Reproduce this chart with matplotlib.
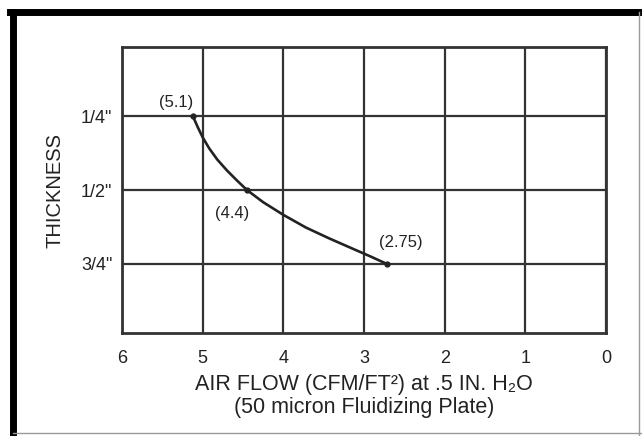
import matplotlib
matplotlib.use("Agg")
import matplotlib.pyplot as plt
from matplotlib.lines import Line2D

# data
flow_pts = [5.12, 4.45, 2.72]
thick_pts = [0.25, 0.5, 0.75]
point_labels = ['(5.1)', '(4.4)', '(2.75)']
label_x = [5.33, 4.64, 2.54]
label_y = [0.202, 0.578, 0.679]

# points along the drawn curve
flow_curve = [5.12, 5.06, 5.0, 4.92, 4.82, 4.70, 4.58, 4.45, 4.25, 4.0, 3.72, 3.43, 3.13, 2.92, 2.72]
thick_curve = [0.25, 0.287, 0.321, 0.358, 0.396, 0.433, 0.466, 0.5, 0.541, 0.584, 0.627, 0.664, 0.700, 0.725, 0.75]

x_ticks = [6, 5, 4, 3, 2, 1, 0]
y_ticks = [0.25, 0.5, 0.75]
y_ticklabels = ['1/4"', '1/2"', '3/4"']

plt.rcParams['font.family'] = ['Liberation Sans', 'DejaVu Sans']
ink = '#222222'

fig = plt.figure(figsize=(6.42, 4.36), dpi=100)
ax = fig.add_axes([0.190, 0.236, 0.754, 0.656])

ax.plot(flow_curve, thick_curve, color=ink, lw=1.9, solid_capstyle='round', solid_joinstyle='round')
ax.plot(flow_pts, thick_pts, 'o', color=ink, ms=3.5)
for x, y, t in zip(label_x, label_y, point_labels):
    ax.text(x, y, t, ha='center', va='center', fontsize=12, color=ink)

ax.set_xlim(6, 0)
ax.set_ylim(0.985, 0.015)
ax.set_xticks(x_ticks)
ax.set_yticks(y_ticks)
ax.set_yticklabels(y_ticklabels)
ax.tick_params(length=0, labelsize=13, colors=ink)
ax.tick_params(axis='x', pad=12)
ax.tick_params(axis='y', pad=7)
ax.grid(True, color='#333333', lw=1.6)
for s in ax.spines.values():
    s.set_color('#333333')
    s.set_linewidth(2)

ax.set_xlabel('AIR FLOW (CFM/FT\u00b2) at .5 IN. H\u2082O\n(50 micron Fluidizing Plate)',
              fontsize=15.5, color=ink, labelpad=5, linespacing=1.15)
ax.set_ylabel('THICKNESS', fontsize=14.5, color=ink, labelpad=12)

# outer frame
fig.add_artist(Line2D([12.5 / 642, 12.5 / 642], [0, 1 - 12.5 / 436], color='black', lw=5))
fig.add_artist(Line2D([10 / 642, 1], [1 - 12.5 / 436, 1 - 12.5 / 436], color='black', lw=5))
fig.add_artist(Line2D([639 / 642, 639 / 642], [0, 1 - 12.5 / 436], color='#999999', lw=1))
fig.add_artist(Line2D([12.5 / 642, 1], [3 / 436, 3 / 436], color='#999999', lw=1))

fig.savefig('out.png', dpi=100)
